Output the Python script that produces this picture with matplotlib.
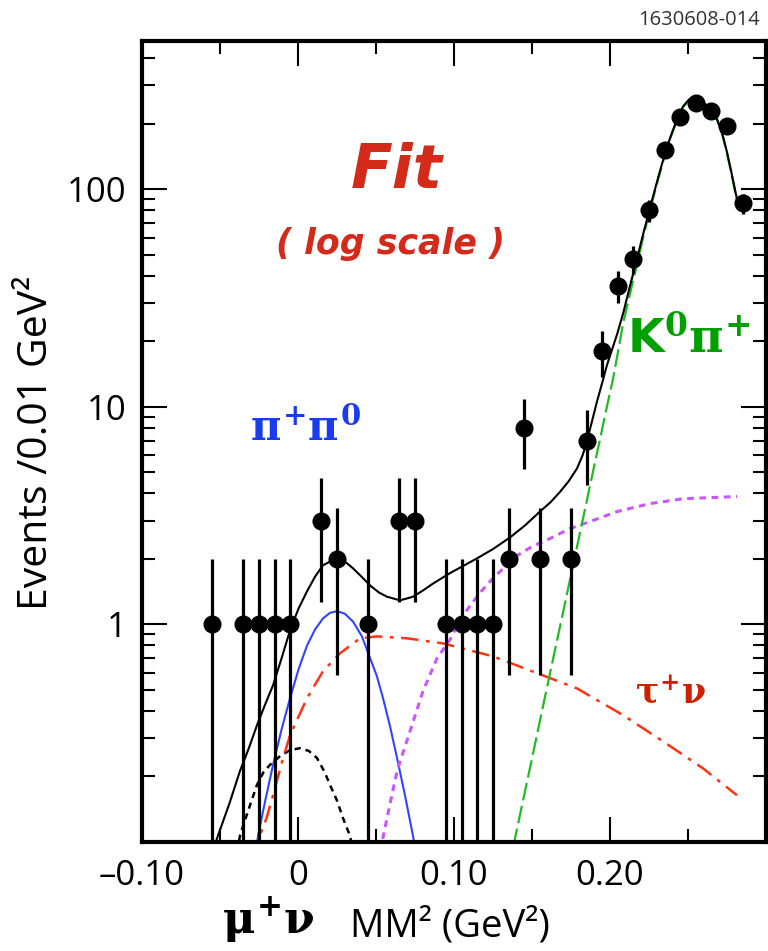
"""
Missing-mass-squared fit, log scale (mu nu / tau nu / pi pi0 / K0 pi / ...)
"""
import numpy as np
import matplotlib
matplotlib.use("Agg")
import matplotlib.pyplot as plt
from matplotlib.ticker import FixedLocator, NullFormatter

# --- data points: bin centres (GeV^2) and events per bin ---
bin_x = [-0.055, -0.035, -0.025, -0.015, -0.005, 0.015, 0.025, 0.045, 0.065, 0.075,
         0.095, 0.105, 0.115, 0.125, 0.135, 0.145, 0.155, 0.175, 0.185, 0.195,
         0.205, 0.215, 0.225, 0.235, 0.245, 0.255, 0.265, 0.275, 0.285]
counts = [1, 1, 1, 1, 1, 3, 2, 1, 3, 3,
          1, 1, 1, 1, 2, 8, 2, 2, 7, 18,
          36, 48, 80, 152, 214, 248, 228, 195, 86]

# --- fit curves ---
total_x = [-0.060, -0.0513, -0.044, -0.0372, -0.0315, -0.0263, -0.021, -0.016, -0.0105,
           -0.0051, 0.0003, 0.0058, 0.011, 0.016, 0.021, 0.0269, 0.031, 0.0353, 0.041,
           0.0462, 0.052, 0.0571, 0.0654, 0.0737, 0.080, 0.0865, 0.0974, 0.1147, 0.125,
           0.1359, 0.1455, 0.1551, 0.162, 0.168, 0.1735, 0.1788, 0.1825, 0.1853, 0.1885,
           0.1917, 0.195, 0.198, 0.2045, 0.2085, 0.2128, 0.217, 0.2212, 0.226, 0.2301,
           0.2345, 0.2385, 0.243, 0.2468, 0.2505, 0.2545, 0.2585, 0.2628, 0.2686, 0.272,
           0.275, 0.278, 0.2814]
total_y = [0.07, 0.107, 0.15, 0.212, 0.27, 0.344, 0.43, 0.525, 0.70,
           0.94, 1.18, 1.42, 1.66, 1.87, 1.95, 1.97, 1.92, 1.81, 1.65,
           1.51, 1.40, 1.34, 1.29, 1.34, 1.43, 1.54, 1.72, 2.01, 2.22,
           2.51, 2.85, 3.30, 3.65, 4.07, 4.55, 5.2, 6.0, 7.0, 8.6,
           10.6, 12.9, 15.5, 21.5, 27, 35.9, 47, 62, 84, 108,
           140, 172, 210, 240, 258, 264, 256, 240, 210, 180,
           148, 118, 90]

k0pi_x = [0.136, 0.1391, 0.149, 0.159, 0.169, 0.179, 0.189, 0.1936, 0.198, 0.2019,
          0.2055, 0.2083, 0.2128, 0.2173, 0.2212, 0.226, 0.2301, 0.2345, 0.2385, 0.243,
          0.2468, 0.2505, 0.2545, 0.2585, 0.2628, 0.2686, 0.272, 0.275, 0.278, 0.2814]
k0pi_y = [0.075, 0.104, 0.224, 0.49, 1.06, 2.3, 5.0, 7.1, 10.0, 13.4,
          18.5, 24, 33, 45, 60, 82, 106, 138, 170, 208,
          238, 256, 262, 254, 238, 208, 178, 146, 116, 88]

pipi0_x = [-0.028, -0.0256, -0.021, -0.016, -0.0105, -0.0051, 0.0003, 0.0058, 0.011,
           0.016, 0.0205, 0.025, 0.030, 0.0353, 0.041, 0.0462, 0.0505, 0.0545, 0.059,
           0.0635, 0.0685, 0.0737, 0.076]
pipi0_y = [0.08, 0.107, 0.155, 0.226, 0.33, 0.458, 0.62, 0.80, 0.95,
           1.065, 1.13, 1.15, 1.12, 1.03, 0.88, 0.70, 0.58, 0.458, 0.34,
           0.243, 0.165, 0.107, 0.085]

taunu_x = [-0.027, -0.0244, -0.020, -0.016, -0.0105, -0.0051, 0.0058, 0.016, 0.0269,
           0.0397, 0.0506, 0.0699, 0.093, 0.125, 0.157, 0.1788, 0.2083, 0.234, 0.2596,
           0.2814]
taunu_y = [0.085, 0.107, 0.13, 0.164, 0.23, 0.31, 0.458, 0.609, 0.736,
           0.863, 0.881, 0.863, 0.818, 0.713, 0.583, 0.508, 0.383, 0.29, 0.218,
           0.164]

munu_x = [-0.040, -0.0372, -0.032, -0.0263, -0.022, -0.018, -0.011, -0.0051, 0.0013,
          0.007, 0.0122, 0.017, 0.0205, 0.025, 0.0288, 0.0333, 0.036]
munu_y = [0.08, 0.107, 0.139, 0.183, 0.21, 0.226, 0.25, 0.264, 0.27,
          0.262, 0.243, 0.21, 0.183, 0.155, 0.129, 0.107, 0.085]

other_x = [0.052, 0.0545, 0.059, 0.0635, 0.0718, 0.0801, 0.0891, 0.0974, 0.104,
           0.1103, 0.1175, 0.125, 0.133, 0.1404, 0.150, 0.1615, 0.174, 0.1872, 0.2045,
           0.2256, 0.2468, 0.2814]
other_y = [0.08, 0.105, 0.15, 0.212, 0.323, 0.493, 0.699, 0.85, 1.05,
           1.22, 1.42, 1.63, 1.85, 2.07, 2.28, 2.48, 2.75, 2.97, 3.30,
           3.59, 3.78, 3.87]

x_ticks = [-0.10, 0.0, 0.10, 0.20]
x_tick_labels = ["\u20130.10", "0", "0.10", "0.20"]
y_ticks = [1, 10, 100]
y_tick_labels = ["1", "10", "100"]

plt.rcParams["mathtext.fontset"] = "custom"
plt.rcParams["mathtext.it"] = "DejaVu Serif:bold"
plt.rcParams["mathtext.rm"] = "DejaVu Serif:bold"
plt.rcParams["mathtext.sf"] = "DejaVu Sans:bold"

LABEL_FONT = "Open Sans"


def main():
    fig = plt.figure(figsize=(7.68, 9.51), dpi=100)
    ax = fig.add_axes([142 / 768, 109 / 951, 624 / 768, 801 / 951])

    # curves
    ax.plot(munu_x, munu_y, color="black", lw=1.8, ls=(0, (2.5, 2)))
    ax.plot(taunu_x, taunu_y, color="#ff3311", lw=1.8, ls=(0, (7, 3, 1.5, 3)))
    ax.plot(pipi0_x, pipi0_y, color="#3344ff", lw=1.5)
    ax.plot(other_x, other_y, color="#cc55ff", lw=2.2, ls=(0, (2.2, 1.8)))
    ax.plot(k0pi_x, k0pi_y, color="#22bb22", lw=1.6, ls=(0, (8, 2.5)))
    ax.plot(total_x, total_y, color="black", lw=1.5)

    # data with sqrt(N) errors
    n = np.array(counts, dtype=float)
    err = np.sqrt(n)
    lower = n - np.maximum(n - err, 1e-3)
    ax.errorbar(bin_x, n, yerr=[lower, err], fmt="o", color="black",
                markersize=12, elinewidth=2.3, capsize=0, zorder=5)

    ax.set_yscale("log")
    ax.set_xlim(-0.10, 0.30)
    ax.set_ylim(0.1, 480)

    ax.xaxis.set_major_locator(FixedLocator(x_ticks))
    ax.xaxis.set_minor_locator(FixedLocator([-0.05, 0.05, 0.15, 0.25]))
    ax.set_xticklabels(x_tick_labels, fontsize=25, family=LABEL_FONT)
    ax.yaxis.set_major_locator(FixedLocator(y_ticks))
    minors = [m * d for d in (0.1, 1, 10, 100) for m in range(2, 10)]
    ax.yaxis.set_minor_locator(FixedLocator(minors))
    ax.yaxis.set_minor_formatter(NullFormatter())
    ax.set_yticklabels(y_tick_labels, fontsize=25, family=LABEL_FONT)

    ax.tick_params(which="both", direction="in", top=True, right=True, width=1.5)
    ax.tick_params(which="major", length=18)
    ax.tick_params(which="minor", length=9.5)
    ax.tick_params(axis="x", pad=12)
    ax.tick_params(axis="y", pad=11)
    for s in ax.spines.values():
        s.set_linewidth(3)

    # annotations
    ax.text(0.0635, 121, "Fit", color="#d42a1a", fontsize=44, fontweight="bold",
            fontstyle="italic", ha="center", va="center")
    ax.text(0.059, 56, "( log scale )", color="#d42a1a", fontsize=25,
            fontweight="bold", fontstyle="italic", ha="center", va="center")
    ax.text(-0.031, 7.9, r"$\pi^{+}\pi^{0}$", color="#1a3cf0", fontsize=30,
            ha="left", va="center")
    ax.text(0.211, 20.1, r"$\mathsf{K}^{0}\pi^{+}$", color="#00a000", fontsize=34,
            ha="left", va="center")
    ax.text(0.216, 0.48, r"$\tau^{+}\nu$", color="#cc2200", fontsize=25,
            ha="left", va="center")

    fig.text(222 / 768, 1 - 920 / 951, r"$\mu^{+}\nu$", color="black", fontsize=32,
             ha="left", va="center")
    fig.text(350 / 768, 1 - 926 / 951, "MM\u00b2 (GeV\u00b2)", fontsize=27.5,
             family=LABEL_FONT, ha="left", va="center")
    fig.text(37 / 768, 1 - 443 / 951, "Events /0.01 GeV\u00b2", fontsize=29.5,
             family=LABEL_FONT, rotation=90, ha="center", va="center")
    fig.text(760 / 768, 1 - 20 / 951, "1630608-014", fontsize=14.5,
             family=LABEL_FONT, color="#333333", ha="right", va="center")

    fig.savefig("out.png", dpi=100)


if __name__ == "__main__":
    main()
